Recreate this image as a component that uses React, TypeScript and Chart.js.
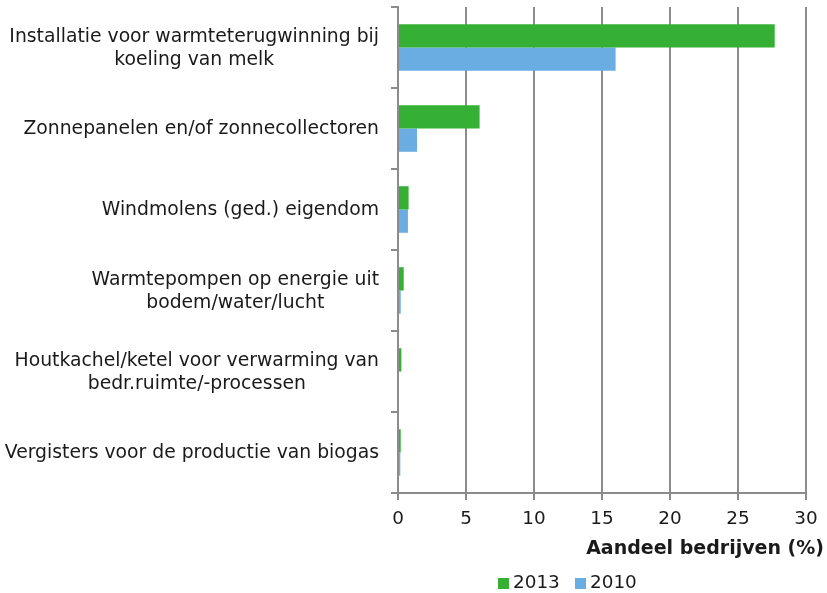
import React, { useEffect, useRef } from "react";
import { Chart, registerables } from "chart.js";

Chart.register(...registerables);

const categories: string[][] = [
  ["Installatie voor warmteterugwinning bij", "koeling van melk"],
  ["Zonnepanelen en/of zonnecollectoren"],
  ["Windmolens (ged.) eigendom"],
  ["Warmtepompen op energie uit", "bodem/water/lucht"],
  ["Houtkachel/ketel voor verwarming van", "bedr.ruimte/-processen"],
  ["Vergisters voor de productie van biogas"],
];
const values2013: number[] = [27.7, 6.0, 0.78, 0.42, 0.25, 0.2];
const values2010: number[] = [16.0, 1.4, 0.73, 0.2, 0.07, 0.17];
const seriesLabels: string[] = ["2013", "2010"];
const xTicks: number[] = [0, 5, 10, 15, 20, 25, 30];
const xTitle = "Aandeel bedrijven (%)";

const GREEN = "#35b035";
const BLUE = "#6aade3";
const GRID = "#8c8c8c";
const TEXT = "#1a1a1a";
const FONT = "'DejaVu Sans', Verdana, sans-serif";

const labelPlugin = {
  id: "customLabels",
  afterDraw(chart: any) {
    const { ctx, chartArea, scales } = chart;
    const y = scales.y;
    ctx.save();
    ctx.fillStyle = TEXT;
    ctx.font = `18.8px ${FONT}`;
    ctx.textBaseline = "middle";
    ctx.textAlign = "center";
    const rightX = chartArea.left - 19;
    const lh = 23;
    categories.forEach((lines, i) => {
      const cy = y.getPixelForValue(i);
      const maxW = Math.max(...lines.map((l) => ctx.measureText(l).width));
      const cx = rightX - maxW / 2;
      const y0 = cy - ((lines.length - 1) * lh) / 2 + 1;
      lines.forEach((l, j) => ctx.fillText(l, cx, y0 + j * lh));
    });
    // axis title
    ctx.font = `bold 19px ${FONT}`;
    ctx.textAlign = "right";
    ctx.fillText(xTitle, chartArea.right + 18, chartArea.bottom + 56);
    // legend
    ctx.font = `18.4px ${FONT}`;
    ctx.textAlign = "left";
    const ly = chartArea.bottom + 90;
    let lx = chartArea.left + 100;
    const colors = [GREEN, BLUE];
    seriesLabels.forEach((s, i) => {
      ctx.fillStyle = colors[i];
      ctx.fillRect(lx, ly - 5, 11, 11);
      ctx.fillStyle = TEXT;
      ctx.fillText(s, lx + 15, ly);
      lx += 77;
    });
    ctx.restore();
  },
};

export default function App() {
  const ref = useRef<HTMLCanvasElement | null>(null);
  useEffect(() => {
    if (!ref.current) return;
    const chart = new Chart(ref.current, {
      type: "bar",
      data: {
        labels: categories.map((c) => c.join(" ")),
        datasets: [
          { label: seriesLabels[0], data: values2013, backgroundColor: GREEN },
          { label: seriesLabels[1], data: values2010, backgroundColor: BLUE },
        ],
      },
      options: {
        indexAxis: "y",
        responsive: false,
        animation: false,
        categoryPercentage: 0.575,
        barPercentage: 1,
        layout: { padding: { top: 7, right: 21, bottom: 0, left: 0 } },
        plugins: {
          legend: { display: false },
          tooltip: { enabled: false },
        },
        scales: {
          x: {
            min: 0,
            max: 30,
            afterBuildTicks: (scale: any) => {
              scale.ticks = xTicks.map((v) => ({ value: v }));
            },
            afterFit: (scale: any) => {
              scale.height = 100;
            },
            grid: {
              color: GRID,
              lineWidth: 2,
              drawTicks: true,
              tickLength: 7,
            },
            border: { display: true, color: GRID, width: 2 },
            ticks: {
              color: TEXT,
              font: { family: FONT, size: 18.4 },
              padding: 8,
              maxRotation: 0,
            },
          },
          y: {
            afterFit: (scale: any) => {
              scale.width = 398;
            },
            grid: {
              display: true,
              drawOnChartArea: false,
              drawTicks: true,
              tickLength: 7,
              offset: true,
              color: GRID,
              lineWidth: 2,
            },
            border: { display: true, color: GRID, width: 2 },
            ticks: { display: false },
          },
        },
      },
      plugins: [labelPlugin],
    });
    return () => chart.destroy();
  }, []);
  return (
    <div style={{ position: "absolute", left: 0, top: 0, width: 827, height: 593 }}>
      <canvas ref={ref} width={827} height={593} style={{ display: "block" }} />
    </div>
  );
}
